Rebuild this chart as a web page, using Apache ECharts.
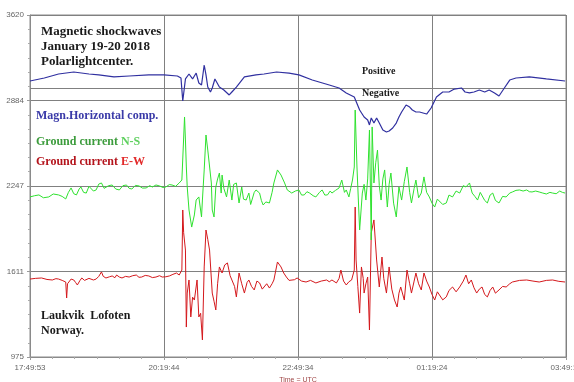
<!DOCTYPE html>
<html><head><meta charset="utf-8">
<script src="https://cdn.jsdelivr.net/npm/echarts@6/dist/echarts.min.js"></script>
<style>html,body{margin:0;padding:0;background:#fff}#c{width:574px;height:382px}</style>
</head><body><div id="c"></div>
<script>
// x: minutes since 17:49:53 UTC ; y: recorder units (axis scale)
const xTickLabels = ['17:49:53', '20:19:44', '22:49:34', '01:19:24', '03:49:14'];
const yTickLabels = ['975', '1611', '2247', '2884', '3620'];
const Y_BASE = 975;
const Y_STEP = 636.25;
const X_STEP = 150;
const referenceLine = 2977;

const magnHorizontal = [[0,3029],[16,3051],[32,3081],[49,3096],[66,3081],[77,3074],[94,3059],[111,3066],[133,3074],[150,3074],[165,3066],[169,3051],[171,2880],[174,3044],[178,3081],[182,3044],[186,3088],[189,3014],[192,2999],[195,3148],[197,3074],[199,2984],[202,2947],[204,2977],[207,3044],[209,3036],[212,2984],[217,2962],[223,2925],[226,2947],[231,2984],[240,3059],[253,3074],[262,3081],[276,3096],[290,3088],[301,3074],[316,3036],[335,2999],[346,2977],[354,2940],[363,2910],[369,2813],[374,2761],[378,2739],[380,2702],[382,2754],[385,2716],[388,2754],[391,2716],[395,2664],[399,2649],[402,2657],[406,2679],[410,2716],[413,2761],[416,2798],[421,2850],[425,2835],[428,2813],[432,2798],[436,2798],[444,2783],[449,2828],[455,2910],[462,2947],[469,2947],[475,2969],[483,2977],[487,2947],[492,2940],[497,2947],[503,2962],[509,2947],[514,2962],[520,2940],[525,2917],[531,2977],[537,3036],[544,3051],[559,3059],[578,3044],[599,3029]];

const groundNS = [[0,2166],[5,2175],[10,2181],[15,2160],[21,2166],[26,2188],[32,2181],[36,2170],[40,2151],[43,2200],[46,2233],[49,2190],[52,2181],[55,2225],[57,2240],[60,2200],[63,2195],[66,2245],[68,2255],[71,2210],[74,2218],[77,2262],[80,2270],[83,2230],[85,2218],[88,2250],[92,2255],[96,2225],[100,2218],[104,2250],[108,2255],[111,2230],[114,2225],[118,2252],[122,2248],[126,2232],[130,2233],[134,2250],[137,2240],[141,2255],[145,2248],[149,2236],[152,2240],[156,2258],[159,2255],[163,2245],[167,2270],[170,2292],[173,2761],[174,2590],[175,2389],[176,2240],[178,2069],[181,1942],[184,2032],[186,2143],[189,2166],[192,2017],[193,2143],[195,2367],[197,2627],[199,2515],[203,2270],[204,2069],[206,2017],[208,2240],[210,2300],[212,2344],[214,2195],[215,2329],[217,2230],[220,2166],[223,2292],[226,2143],[228,2260],[231,2270],[234,2121],[237,2240],[239,2150],[242,2143],[245,2195],[247,2110],[249,2121],[251,2200],[253,2218],[257,2195],[259,2140],[261,2106],[264,2129],[268,2121],[271,2200],[273,2270],[277,2367],[281,2329],[285,2270],[288,2218],[293,2195],[297,2210],[301,2218],[304,2180],[307,2181],[310,2205],[313,2195],[317,2175],[320,2166],[324,2200],[327,2218],[330,2180],[333,2181],[336,2210],[338,2195],[342,2215],[346,2233],[349,2292],[352,2200],[354,2218],[357,2166],[359,2230],[361,2292],[363,2389],[364,2813],[366,2389],[369,1920],[372,2195],[374,2260],[376,2143],[378,2300],[380,2664],[382,1846],[383,2687],[385,2270],[387,2420],[389,2515],[391,2250],[393,2143],[395,2300],[397,2367],[399,2180],[400,2091],[402,2260],[404,2344],[407,2120],[410,2017],[413,2240],[416,2143],[419,2280],[422,2389],[425,2200],[427,2121],[430,2230],[432,2292],[435,2160],[438,2195],[441,2315],[444,2200],[447,2166],[450,2120],[453,2091],[456,2150],[458,2143],[462,2110],[466,2121],[469,2180],[473,2166],[477,2210],[481,2195],[485,2250],[488,2240],[492,2270],[495,2195],[498,2170],[501,2143],[504,2200],[506,2195],[509,2140],[512,2121],[515,2180],[518,2195],[521,2140],[525,2121],[529,2170],[533,2166],[537,2195],[540,2203],[544,2215],[548,2218],[552,2210],[556,2218],[559,2205],[562,2203],[566,2210],[570,2203],[574,2195],[578,2188],[582,2200],[585,2195],[589,2190],[593,2210],[596,2200],[599,2195]];

const groundEW = [[0,1555],[6,1560],[13,1563],[19,1552],[25,1548],[29,1558],[32,1555],[36,1545],[40,1533],[41,1414],[42,1520],[44,1533],[46,1555],[49,1548],[51,1530],[53,1511],[56,1545],[58,1563],[61,1545],[63,1533],[66,1560],[68,1570],[71,1548],[74,1555],[77,1575],[80,1608],[82,1575],[85,1563],[89,1572],[92,1578],[95,1565],[97,1585],[100,1570],[103,1563],[107,1575],[111,1570],[115,1580],[119,1585],[122,1568],[125,1570],[129,1582],[133,1578],[137,1566],[141,1570],[145,1580],[148,1570],[152,1572],[156,1578],[160,1590],[164,1600],[167,1585],[170,1622],[171,2069],[172,1900],[174,1771],[175,1198],[176,1451],[178,1548],[180,1273],[182,1420],[184,1399],[187,1548],[189,1273],[191,1300],[193,1102],[195,1645],[197,1920],[199,1850],[201,1771],[204,1451],[206,1390],[208,1325],[210,1520],[212,1645],[215,1600],[218,1660],[221,1675],[224,1580],[226,1548],[229,1500],[231,1422],[234,1600],[237,1520],[240,1451],[243,1530],[245,1548],[248,1500],[251,1474],[254,1540],[257,1526],[260,1480],[262,1474],[265,1520],[268,1488],[271,1520],[273,1548],[277,1682],[281,1645],[284,1600],[287,1570],[290,1545],[292,1533],[296,1550],[299,1563],[304,1540],[309,1533],[314,1545],[320,1526],[326,1540],[332,1548],[335,1535],[338,1548],[343,1526],[346,1560],[348,1622],[351,1540],[354,1511],[357,1535],[360,1548],[363,1622],[364,2091],[365,1697],[367,1500],[369,1302],[371,1645],[373,1560],[374,1451],[376,1520],[378,1570],[380,1176],[382,1898],[385,1995],[388,1697],[391,1496],[394,1719],[396,1560],[399,1451],[402,1645],[405,1480],[408,1399],[411,1347],[413,1450],[415,1496],[419,1399],[422,1622],[425,1520],[427,1451],[430,1540],[432,1600],[435,1520],[438,1474],[441,1600],[444,1540],[447,1496],[450,1440],[453,1399],[456,1460],[458,1451],[462,1400],[466,1422],[469,1470],[473,1496],[477,1460],[481,1496],[485,1540],[488,1585],[491,1520],[494,1548],[497,1490],[500,1451],[503,1480],[506,1496],[509,1440],[512,1422],[515,1470],[518,1496],[521,1450],[525,1474],[529,1500],[533,1496],[537,1520],[540,1533],[548,1545],[556,1548],[563,1540],[570,1533],[578,1545],[585,1548],[592,1538],[599,1533]];

const shift = arr => arr.map(p => [p[0], p[1] - Y_BASE]);
const chart = echarts.init(document.getElementById('c'), null, {renderer: 'canvas'});
const axisFont = {fontFamily: 'Liberation Sans Narrow, Liberation Sans, sans-serif', fontSize: 8, color: '#666'};
const serif = 'Liberation Serif, DejaVu Serif, serif';

chart.setOption({
  animation: false,
  backgroundColor: '#fff',
  grid: {left: 30, right: 8, top: 15, bottom: 25, show: true, borderColor: '#8a8a8a', borderWidth: 1, outerBoundsMode: 'none', containLabel: false},
  xAxis: {
    type: 'value', min: 0, max: 4 * X_STEP, interval: X_STEP,
    axisLine: {show: true, lineStyle: {color: '#8a8a8a'}},
    axisTick: {show: true, length: 3, lineStyle: {color: '#999'}},
    minorTick: {show: true, splitNumber: 6, length: 2, lineStyle: {color: '#aaa'}},
    splitLine: {show: true, lineStyle: {color: '#808080', width: 1}},
    axisLabel: Object.assign({margin: 7, showMaxLabel: true, hideOverlap: false, formatter: v => xTickLabels[Math.round(v / X_STEP)] || ''}, axisFont),
    name: 'Time = UTC', nameLocation: 'middle', nameGap: 19,
    nameTextStyle: {fontSize: 7, color: '#a04848', fontFamily: 'Liberation Sans Narrow, Liberation Sans, sans-serif'}
  },
  yAxis: {
    type: 'value', min: 0, max: 4 * Y_STEP, interval: Y_STEP,
    axisLine: {show: true, lineStyle: {color: '#8a8a8a'}},
    axisTick: {show: true, length: 3, lineStyle: {color: '#999'}},
    minorTick: {show: true, splitNumber: 6, length: 2, lineStyle: {color: '#aaa'}},
    splitLine: {show: true, lineStyle: {color: '#808080', width: 1}},
    axisLabel: Object.assign({margin: 6, formatter: v => yTickLabels[Math.round(v / Y_STEP)] || ''}, axisFont)
  },
  series: [
    {type: 'line', data: shift(groundEW), showSymbol: false, lineStyle: {color: '#d4181c', width: 1}, z: 3},
    {type: 'line', data: shift(groundNS), showSymbol: false, lineStyle: {color: '#2fe22f', width: 1}, z: 4},
    {type: 'line', data: shift(magnHorizontal), showSymbol: false, lineStyle: {color: '#3030a0', width: 1.2}, z: 5,
      markLine: {silent: true, symbol: 'none', label: {show: false}, lineStyle: {color: '#808080', width: 1, type: 'solid'},
        data: [{yAxis: referenceLine - Y_BASE}]}}
  ],
  graphic: [
    {type: 'text', left: 41, top: 24, style: {text: 'Magnetic shockwaves\nJanuary 19-20 2018\nPolarlightcenter.', font: 'bold 13px ' + serif, fill: '#1a1a1a', lineHeight: 15}},
    {type: 'text', left: 36, top: 110, style: {text: 'Magn.Horizontal comp.', font: 'bold 12px ' + serif, fill: '#3a3aa8'}},
    {type: 'text', left: 36, top: 136, style: {text: '{a|Ground current }{b|N-S}', rich: {a: {font: 'bold 12px ' + serif, fill: '#3c9c3c'}, b: {font: 'bold 12px ' + serif, fill: '#5fd05f'}}}},
    {type: 'text', left: 36, top: 156, style: {text: '{a|Ground current }{b|E-W}', rich: {a: {font: 'bold 12px ' + serif, fill: '#b4141c'}, b: {font: 'bold 12px ' + serif, fill: '#e22a2a'}}}},
    {type: 'text', left: 41, top: 308, style: {text: 'Laukvik  Lofoten\nNorway.', font: 'bold 12px ' + serif, fill: '#1a1a1a', lineHeight: 15}},
    {type: 'text', left: 362, top: 66, style: {text: 'Positive', font: 'bold 10px ' + serif, fill: '#1a1a1a'}},
    {type: 'text', left: 362, top: 88, style: {text: 'Negative', font: 'bold 10px ' + serif, fill: '#1a1a1a'}}
  ]
});
</script>
</body></html>
